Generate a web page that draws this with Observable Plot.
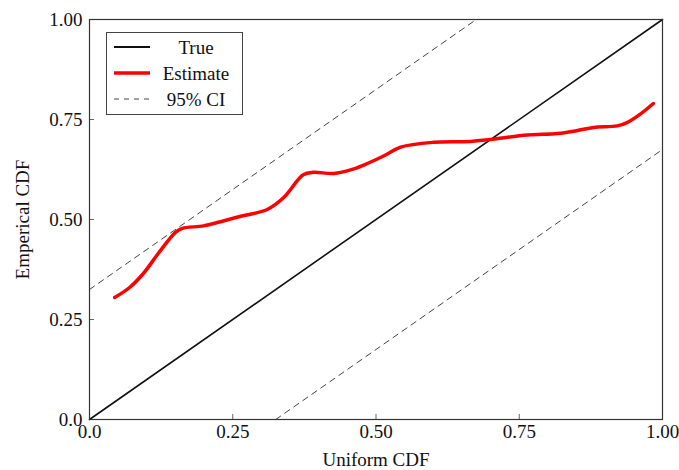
<!DOCTYPE html>
<html>
<head>
<meta charset="utf-8">
<script src="https://cdn.jsdelivr.net/npm/d3@7"></script>
<script src="https://cdn.jsdelivr.net/npm/@observablehq/plot@0.6"></script>
<style>
  body { margin: 0; background: #fff; }
  #wrap { position: relative; width: 679px; height: 470px; font-family: "Liberation Serif", serif; }
  #legend { position: absolute; left: 106px; top: 32px; width: 137px; height: 83px; border: 1px solid #444; background: #fff; font-size: 19px; color: #111; box-sizing: border-box; }
  .row { position: absolute; left: 0; height: 25px; width: 100%; }
  .sw { position: absolute; left: 6px; top: 7px; }
  .lab { position: absolute; left: 46px; right: 3px; text-align: center; line-height: 25px; }
</style>
</head>
<body>
<div id="wrap"></div>
<script>
const xTicks = [0, 0.25, 0.5, 0.75, 1.0];
const xTickLabels = ["0.0", "0.25", "0.50", "0.75", "1.00"];
const yTicks = [0, 0.25, 0.5, 0.75, 1.0];
const yTickLabels = ["0.0", "0.25", "0.50", "0.75", "1.00"];

const estX = [0.044, 0.07, 0.094, 0.12, 0.15, 0.162, 0.199, 0.235, 0.264, 0.31, 0.339, 0.373, 0.391, 0.426, 0.46, 0.485, 0.515, 0.543, 0.60, 0.665, 0.70, 0.764, 0.817, 0.85, 0.88, 0.921, 0.939, 0.96, 0.984];
const estY = [0.305, 0.33, 0.365, 0.415, 0.468, 0.478, 0.484, 0.497, 0.508, 0.525, 0.555, 0.612, 0.618, 0.615, 0.626, 0.64, 0.66, 0.681, 0.693, 0.695, 0.70, 0.711, 0.715, 0.722, 0.73, 0.734, 0.743, 0.762, 0.79];

const ciHalfWidth = 0.325;
const trueLine = [[0, 0], [1, 1]];
const ciUpper = [[0, ciHalfWidth], [1 - ciHalfWidth, 1]];
const ciLower = [[ciHalfWidth, 0], [1, 1 - ciHalfWidth]];

const est = estX.map((x, i) => ({x, y: estY[i]}));

const chart = Plot.plot({
  width: 679,
  height: 470,
  marginLeft: 89,
  marginRight: 17,
  marginTop: 19,
  marginBottom: 51,
  style: {fontFamily: "Liberation Serif, serif", fontSize: "19px", color: "#111", background: "#fff"},
  x: {domain: [0, 1]},
  y: {domain: [0, 1]},
  marks: [
    Plot.line(ciUpper, {x: d => d[0], y: d => d[1], stroke: "#444", strokeWidth: 1, strokeDasharray: "6,5"}),
    Plot.line(ciLower, {x: d => d[0], y: d => d[1], stroke: "#444", strokeWidth: 1, strokeDasharray: "6,5"}),
    Plot.line(trueLine, {x: d => d[0], y: d => d[1], stroke: "#111", strokeWidth: 1.6}),
    Plot.line(est, {x: "x", y: "y", stroke: "#ff0000", strokeWidth: 3.5, curve: "catmull-rom"}),
    Plot.axisX({ticks: xTicks, tickFormat: (d, i) => xTickLabels[i], tickSize: 0, tickPadding: 5, label: "Uniform CDF", labelAnchor: "center", labelArrow: "none", labelOffset: 46, fontSize: 19}),
    Plot.tickX(xTicks, {x: d => d, insetTop: 395, stroke: "#666", strokeWidth: 1}),
    Plot.axisY({ticks: yTicks, tickFormat: (d, i) => yTickLabels[i], tickSize: 0, tickPadding: 7, label: "Emperical CDF", labelAnchor: "center", labelArrow: "none", labelOffset: 74, fontSize: 19}),
    Plot.tickY(yTicks, {y: d => d, insetRight: 568, stroke: "#666", strokeWidth: 1}),
    Plot.frame({stroke: "#333", strokeWidth: 1.2})
  ]
});

const wrap = document.getElementById("wrap");
wrap.appendChild(chart);

const legendItems = [
  {label: "True", color: "#111", width: 1.8, dash: null},
  {label: "Estimate", color: "#ff0000", width: 3.5, dash: null},
  {label: "95% CI", color: "#444", width: 1, dash: "5,5"}
];
const leg = document.createElement("div");
leg.id = "legend";
legendItems.forEach((it, i) => {
  const row = document.createElement("div");
  row.className = "row";
  row.style.top = (2 + i * 26) + "px";
  const ns = "http://www.w3.org/2000/svg";
  const svg = document.createElementNS(ns, "svg");
  svg.setAttribute("class", "sw");
  svg.setAttribute("width", 38);
  svg.setAttribute("height", 10);
  const ln = document.createElementNS(ns, "line");
  ln.setAttribute("x1", 1); ln.setAttribute("x2", 37);
  ln.setAttribute("y1", 5); ln.setAttribute("y2", 5);
  ln.setAttribute("stroke", it.color);
  ln.setAttribute("stroke-width", it.width);
  if (it.dash) ln.setAttribute("stroke-dasharray", it.dash);
  svg.appendChild(ln);
  const lab = document.createElement("div");
  lab.className = "lab";
  lab.textContent = it.label;
  row.appendChild(svg);
  row.appendChild(lab);
  leg.appendChild(row);
});
wrap.appendChild(leg);
</script>
</body>
</html>
